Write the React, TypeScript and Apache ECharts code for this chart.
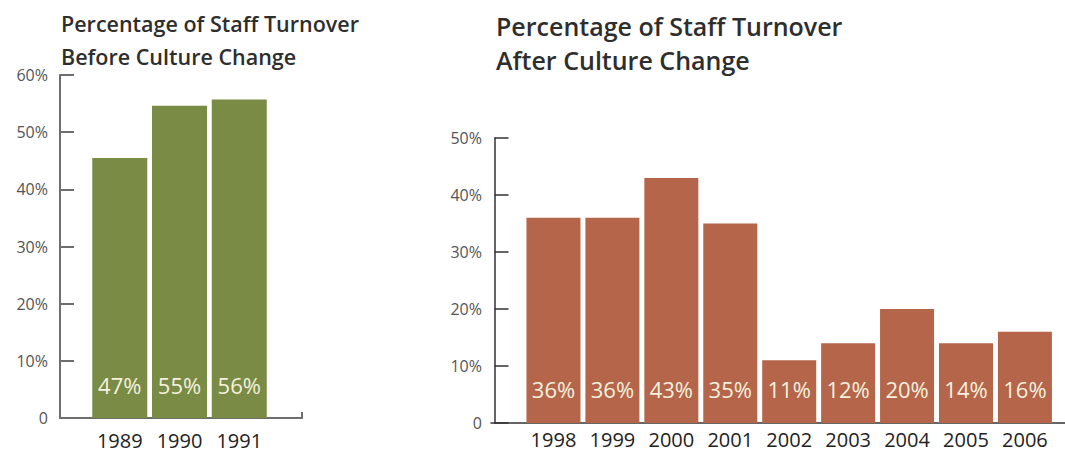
import React, { useEffect, useRef } from "react";
import * as echarts from "echarts";

const leftTitle = "Percentage of Staff Turnover\nBefore Culture Change";
const rightTitle = "Percentage of Staff Turnover\nAfter Culture Change";

const leftYears = ["1989", "1990", "1991"];
const leftHeights = [45.5, 54.6, 55.7];
const leftLabels = ["47%", "55%", "56%"];

const rightYears = ["1998", "1999", "2000", "2001", "2002", "2003", "2004", "2005", "2006"];
const rightHeights = [36, 36, 43, 35, 11, 14, 20, 14, 16];
const rightLabels = ["36%", "36%", "43%", "35%", "11%", "12%", "20%", "14%", "16%"];

const leftMax = 60;
const rightMax = 50;
const tickStep = 10;

const FONT = "'Open Sans', 'Noto Sans', sans-serif";
const GREEN = "#7a8b45";
const RUST = "#b4654a";
const CREAM = "#f4f1de";

export default function App() {
  const ref = useRef<HTMLDivElement>(null);
  useEffect(() => {
    document.body.style.margin = "0";
    const chart = echarts.init(ref.current!, null, { renderer: "svg" });
    const yFmt = (v: number) => (v === 0 ? "0" : v + "%");
    chart.setOption({
      animation: false,
      backgroundColor: "#ffffff",
      title: [
        {
          text: leftTitle,
          left: 56,
          top: 2,
          textStyle: { fontFamily: FONT, fontSize: 21.5, fontWeight: 600, color: "#2e2e2e", lineHeight: 33 },
        },
        {
          text: rightTitle,
          left: 491,
          top: 4,
          textStyle: { fontFamily: FONT, fontSize: 25, fontWeight: 600, color: "#2e2e2e", lineHeight: 34 },
        },
      ],
      grid: [
        { left: 60, top: 75, width: 242, height: 343 },
        { left: 491, top: 138, right: 0, height: 285 },
      ],
      xAxis: [
        {
          type: "value",
          gridIndex: 0,
          min: 0,
          max: 4.05,
          splitLine: { show: false },
          axisLine: { show: true, lineStyle: { color: "#6e6e6e", width: 2 } },
          axisTick: { show: true, inside: true, length: 6, customValues: [4.05], lineStyle: { color: "#6e6e6e", width: 2 } },
          axisLabel: {
            customValues: leftYears.map((_, i) => i + 1),
            formatter: (v: number) => leftYears[Math.round(v) - 1] ?? "",
            fontFamily: FONT,
            fontSize: 20,
            fontWeight: 500,
            color: "#222",
            margin: 12,
          },
        },
        {
          type: "value",
          gridIndex: 1,
          min: -0.06,
          max: 9.68,
          splitLine: { show: false },
          axisLine: { show: true, lineStyle: { color: "#333", width: 1.5 } },
          axisTick: { show: false },
          axisLabel: {
            customValues: rightYears.map((_, i) => i + 1),
            formatter: (v: number) => rightYears[Math.round(v) - 1] ?? "",
            fontFamily: FONT,
            fontSize: 20,
            fontWeight: 500,
            color: "#222",
            margin: 6,
          },
        },
      ],
      yAxis: [
        {
          type: "value",
          gridIndex: 0,
          min: 0,
          max: leftMax,
          interval: tickStep,
          splitLine: { show: false },
          axisLine: { show: true, lineStyle: { color: "#6e6e6e", width: 2 } },
          axisTick: { show: true, inside: true, length: 14, lineStyle: { color: "#6e6e6e", width: 2 } },
          axisLabel: { formatter: yFmt, fontFamily: FONT, fontSize: 16, color: "#555", margin: 12 },
        },
        {
          type: "value",
          gridIndex: 1,
          min: 0,
          max: rightMax,
          interval: tickStep,
          splitLine: { show: false },
          axisLine: { show: true, lineStyle: { color: "#333", width: 1.5 } },
          axisTick: { show: true, inside: true, length: 14, lineStyle: { color: "#333", width: 1.5 } },
          axisLabel: { formatter: yFmt, fontFamily: FONT, fontSize: 16, color: "#555", margin: 9 },
        },
      ],
      series: [
        {
          type: "bar",
          xAxisIndex: 0,
          yAxisIndex: 0,
          barWidth: 55,
          data: leftHeights.map((v, i) => [i + 1, v]),
          itemStyle: { color: GREEN },
          label: {
            show: true,
            position: "insideBottom",
            distance: 22,
            formatter: (p: any) => leftLabels[p.dataIndex],
            fontFamily: FONT,
            fontSize: 22,
            fontWeight: 500,
            color: CREAM,
          },
        },
        {
          type: "bar",
          xAxisIndex: 1,
          yAxisIndex: 1,
          barWidth: 54,
          data: rightHeights.map((v, i) => [i + 1, v]),
          itemStyle: { color: RUST },
          label: {
            show: true,
            position: "insideBottom",
            distance: 23,
            formatter: (p: any) => rightLabels[p.dataIndex],
            fontFamily: FONT,
            fontSize: 22,
            fontWeight: 500,
            color: CREAM,
          },
        },
      ],
    });
    return () => chart.dispose();
  }, []);
  return <div ref={ref} style={{ width: 1065, height: 456 }} />;
}
